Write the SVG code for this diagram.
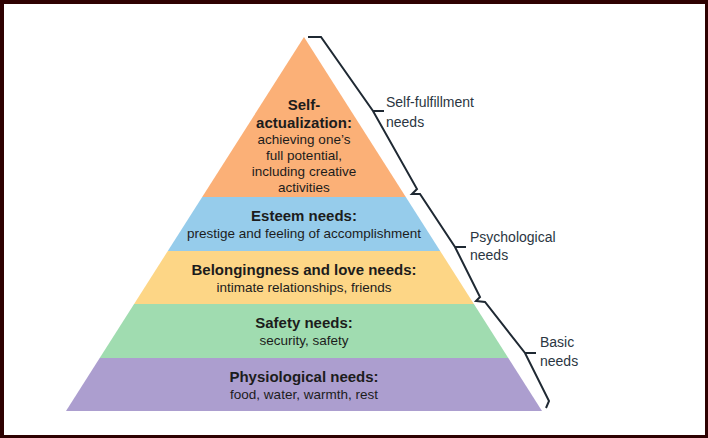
<svg xmlns="http://www.w3.org/2000/svg" width="708" height="438" viewBox="0 0 708 438">
<style>
.t{font-family:"Liberation Sans",Arial,sans-serif;fill:#1c1c1c;text-anchor:middle}
.h{font-size:15px;font-weight:700}
.b{font-size:13.5px}
.s{font-family:"Liberation Sans",Arial,sans-serif;font-size:14px;fill:#2b3642}
.brace{fill:none;stroke:#1f2933;stroke-width:2;stroke-linejoin:miter;stroke-linecap:butt}
</style>
<rect x="0" y="0" width="708" height="438" fill="#2e0101"/>
<rect x="4" y="4" width="701" height="431" fill="#ffffff"/>
<g id="self-actualization">
<polygon points="304,37 405.8,197 202.2,197" fill="#fbb077"/>
<text class="t h" x="304" y="110">Self-</text>
<text class="t h" x="304" y="128">actualization:</text>
<text class="t b" x="304" y="144">achieving one’s</text>
<text class="t b" x="304" y="160">full potential,</text>
<text class="t b" x="304" y="176">including creative</text>
<text class="t b" x="304" y="192">activities</text>
</g>
<g id="esteem">
<polygon points="202.2,197 405.8,197 440.2,251 167.8,251" fill="#96cceb"/>
<text class="t h" x="304" y="221">Esteem needs:</text>
<text class="t b" x="304" y="238">prestige and feeling of accomplishment</text>
</g>
<g id="belonging">
<polygon points="167.8,251 440.2,251 473.9,304 134.1,304" fill="#fdd686"/>
<text class="t h" x="304" y="275">Belongingness and love needs:</text>
<text class="t b" x="304" y="292">intimate relationships, friends</text>
</g>
<g id="safety">
<polygon points="134.1,304 473.9,304 508.3,358 99.7,358" fill="#a0dcb0"/>
<text class="t h" x="304" y="328">Safety needs:</text>
<text class="t b" x="304" y="345">security, safety</text>
</g>
<g id="physiological">
<polygon points="99.7,358 508.3,358 542,411 66,411" fill="#ac9ecf"/>
<text class="t h" x="304" y="382">Physiological needs:</text>
<text class="t b" x="304" y="399">food, water, warmth, rest</text>
</g>
<g id="connectors">
<path class="brace" d="M308,37 L321,37 L373,111 L417,189 L412,194 L420,194 L455,247 L480,297 L476,301 L485,302 L525,353 L549,401 L546,408"/>
<path class="brace" d="M373,111 L384,111 M455,247 L466,247 M525,353 L536,353"/>
</g>
<g id="label-self-fulfillment">
<text class="s" x="386" y="107">Self-fulfillment</text>
<text class="s" x="386" y="127">needs</text>
</g>
<g id="label-psychological">
<text class="s" x="470" y="242">Psychological</text>
<text class="s" x="470" y="260">needs</text>
</g>
<g id="label-basic">
<text class="s" x="540" y="347">Basic</text>
<text class="s" x="540" y="366">needs</text>
</g>
</svg>
